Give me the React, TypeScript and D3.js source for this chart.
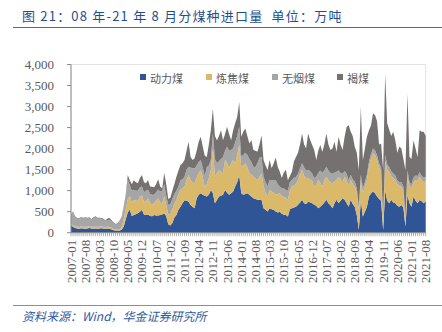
import React from 'react';
import * as d3 from 'd3';

// ---- data (万吨), monthly 2007-01 .. 2021-08 ----
const seriesNames = ['动力煤', '炼焦煤', '无烟煤', '褐煤'];
const seriesColors = ['#2f5597', '#dbb96b', '#a6a6a6', '#767171'];

const thermal = [
  170,140,110,100,95,105,100,95,100,110,100,95,
  100,95,100,105,100,95,100,90,80,60,50,55,
  50,70,150,320,480,550,400,420,440,465,500,545,
  430,420,430,400,390,420,410,410,420,430,465,390,
  200,170,230,360,420,545,620,700,770,760,740,660,
  620,584,820,900,938,900,880,860,900,1018,939,702,
  780,860,880,900,1018,950,900,940,978,1097,1200,1373,
  939,900,920,939,900,860,820,800,781,781,781,584,
  545,505,584,560,544,505,480,500,450,426,420,387,
  560,584,600,620,663,720,781,700,680,740,720,700,
  663,640,584,620,663,720,781,700,650,584,700,781,
  700,760,820,781,700,620,781,680,620,420,71,780,
  386,500,620,860,930,978,940,860,800,760,71,1000,
  760,700,781,720,700,640,620,660,600,150,900,700,
  620,860,760,700,780,750,700,750,
];
const coking = [
  40,40,40,45,40,45,40,45,40,45,40,45,
  40,45,40,45,40,40,45,40,35,30,30,35,
  40,60,170,240,310,330,320,360,320,295,350,345,
  290,340,390,300,280,280,350,410,300,270,395,260,
  230,280,320,320,360,355,400,350,330,490,633,590,
  580,591,480,520,553,430,200,300,400,473,1065,631,
  640,631,570,512,710,700,631,710,750,552,650,710,
  631,700,729,611,512,520,513,490,473,549,631,513,
  405,355,434,420,406,395,440,439,430,434,410,393,
  440,513,530,530,591,660,710,650,620,560,540,530,
  434,510,670,560,434,530,552,554,550,591,520,473,
  633,510,380,552,554,480,473,470,477,530,473,470,
  553,600,634,710,820,908,910,870,750,690,237,700,
  740,750,569,580,554,510,480,440,400,158,450,397,
  430,340,494,554,553,500,500,470,
];
const anthracite = [
  200,300,230,190,200,195,200,210,200,190,170,200,
  230,200,195,180,170,140,160,180,150,130,110,120,
  180,220,260,280,480,250,280,240,240,240,230,210,
  240,240,200,220,230,200,200,210,260,300,290,230,
  230,230,250,240,220,200,230,220,233,250,197,300,
  330,355,300,260,237,220,270,400,300,239,355,417,
  230,209,300,388,222,393,419,314,272,501,450,434,
  236,250,251,296,338,300,237,270,396,450,394,236,
  250,237,236,274,304,354,230,161,180,190,190,220,
  200,157,170,183,146,150,159,200,180,200,200,170,
  203,180,166,300,323,230,237,226,220,225,210,196,
  147,150,200,137,146,150,126,120,123,110,76,130,
  111,110,116,120,120,114,110,110,100,100,72,150,
  120,110,110,110,106,100,100,100,100,72,130,103,
  100,110,106,96,107,100,120,100,
];
const lignite = [
  20,25,20,15,15,20,15,20,15,20,15,20,
  20,15,20,20,20,15,30,40,30,20,15,20,
  20,30,40,60,100,120,150,230,200,175,220,273,
  240,175,234,180,190,180,190,240,120,50,270,270,
  140,150,200,230,330,380,360,380,397,450,590,250,
  200,240,350,480,552,500,480,240,500,710,591,550,
  551,600,688,401,400,474,400,237,438,450,453,591,
  474,550,577,454,372,521,394,390,275,320,514,395,
  400,394,474,277,396,536,420,350,240,380,480,250,
  150,196,400,467,500,570,709,550,524,859,740,683,
  664,398,530,603,505,620,789,620,544,600,732,475,
  800,680,564,810,1117,1306,1020,1030,823,840,871,1610,
  678,790,910,748,680,833,840,810,450,573,1111,1930,
  980,890,840,990,840,650,850,800,650,1111,1826,600,
  600,891,640,450,998,1050,1080,980,
];

const tickLabels = [
  '2007-01','2007-08','2008-03','2008-10','2009-05','2009-12','2010-07',
  '2011-02','2011-09','2012-04','2012-11','2013-06','2014-01','2014-08',
  '2015-03','2015-10','2016-05','2016-12','2017-07','2018-02','2018-09',
  '2019-04','2019-11','2020-06','2021-01','2021-08',
];
const yTicks = [0, 500, 1000, 1500, 2000, 2500, 3000, 3500, 4000];

const title = '图 21：08 年-21 年 8 月分煤种进口量  单位：万吨';
const source = '资料来源：Wind，华金证券研究所';

export default function App() {
  const W = 442, H = 332;
  const n = thermal.length;
  const left = 71, right = 425.7, top = 64.5, bottom = 232.7;

  const rows = d3.range(n).map((i) => ({
    i,
    动力煤: thermal[i],
    炼焦煤: coking[i],
    无烟煤: anthracite[i],
    褐煤: lignite[i],
  }));
  const stacked = d3.stack<any>().keys(seriesNames)(rows);

  const x = d3.scaleLinear().domain([0, n - 1]).range([left, right]);
  const y = d3.scaleLinear().domain([0, 4000]).range([bottom, top]);

  const area = d3
    .area<any>()
    .x((d: any) => x(d.data.i))
    .y0((d: any) => y(d[0]))
    .y1((d: any) => y(d[1]));

  const labelIndex = (s: string) => {
    const [yy, mm] = s.split('-').map(Number);
    return (yy - 2007) * 12 + (mm - 1);
  };

  const legendX = [140, 206, 272, 337];
  const fmt = d3.format(',');
  const serif = '"Liberation Serif", "DejaVu Serif", serif';
  const cjk = '"Noto Sans CJK SC", "Noto Sans", sans-serif';

  return (
    <svg
      width={W}
      height={H}
      style={{ position: 'absolute', left: 0, top: 0, background: '#fff' }}
    >
      {/* title */}
      <text
        x={22}
        y={21}
        fontFamily={cjk}
        fontSize={13}
        letterSpacing={1.2}
        fill="#1f4e8c"
        style={{ whiteSpace: 'pre' }}
      >
        {title}
      </text>
      <line x1={13} x2={442} y1={27.5} y2={27.5} stroke="#2e75b6" strokeWidth={1.2} />

      {/* plot frame */}
      <rect x={left} y={top} width={right - left} height={bottom - top} fill="none" stroke="#e3e3e3" strokeWidth={1} />

      {/* areas */}
      {stacked.map((s, k) => (
        <path key={seriesNames[k]} d={area(s as any) || ''} fill={seriesColors[k]} stroke="none" />
      ))}

      {/* y axis */}
      <line x1={left} x2={left} y1={top} y2={bottom} stroke="#8c8c8c" />
      {yTicks.map((t) => (
        <g key={t}>
          <line x1={left - 4} x2={left} y1={y(t)} y2={y(t)} stroke="#8c8c8c" />
          <text
            x={54}
            y={y(t)}
            textAnchor="end"
            dominantBaseline="central"
            fontFamily={serif}
            fontSize={13}
            fill="#595959"
          >
            {fmt(t)}
          </text>
        </g>
      ))}

      {/* x axis */}
      <line x1={left} x2={right} y1={bottom} y2={bottom} stroke="#8c8c8c" />
      {d3.range(n).map((i) => (
        <line key={i} x1={x(i)} x2={x(i)} y1={bottom} y2={bottom + 3.5} stroke="#9a9a9a" strokeWidth={0.8} />
      ))}
      {tickLabels.map((lab) => (
        <text
          key={lab}
          transform={`translate(${x(labelIndex(lab))},${bottom + 7}) rotate(-90)`}
          textAnchor="end"
          dominantBaseline="central"
          fontFamily={serif}
          fontSize={13}
          fill="#595959"
        >
          {lab}
        </text>
      ))}

      {/* legend */}
      {seriesNames.map((name, k) => (
        <g key={name}>
          <rect x={legendX[k]} y={74} width={6} height={6} fill={seriesColors[k]} />
          <text x={legendX[k] + 10} y={77.5} dominantBaseline="central" fontFamily={cjk} fontSize={11} fill="#595959">
            {name}
          </text>
        </g>
      ))}

      {/* footer */}
      <line x1={13} x2={442} y1={305.5} y2={305.5} stroke="#5b9bd5" strokeWidth={1.2} />
      <text x={22} y={321} fontFamily={cjk} fontSize={12} fontStyle="italic" fill="#2f5aa0">
        {source}
      </text>
    </svg>
  );
}
